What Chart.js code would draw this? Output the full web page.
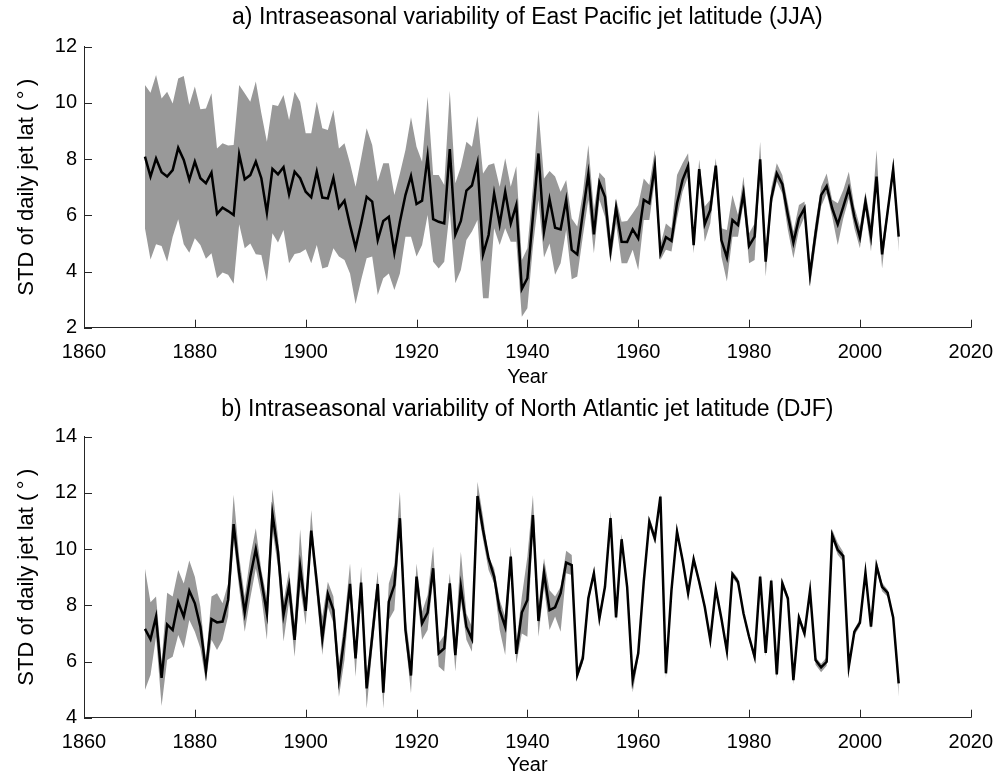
<!DOCTYPE html>
<html>
<head>
<meta charset="utf-8">
<title>Intraseasonal variability of jet latitude</title>
<script src="https://cdn.jsdelivr.net/npm/chart.js@4.4.1/dist/chart.umd.min.js"></script>
<style>
  body { margin: 0; background: #fff; }
  #wrap { position: relative; width: 1006px; height: 778px; }
  canvas { position: absolute; left: 0; }
</style>
</head>
<body>
<div id="wrap">
  <canvas id="chart-a" width="1006" height="390" style="top:0"></canvas>
  <canvas id="chart-b" width="1006" height="388" style="top:390px"></canvas>
</div>
<script>
// years 1871..2007, one value per year
const firstYear = 1871;
const years = Array.from({ length: 137 }, (_, i) => firstYear + i);

const xTicks = [1860, 1880, 1900, 1920, 1940, 1960, 1980, 2000, 2020];
const pacificYTicks = [2, 4, 6, 8, 10, 12];
const atlanticYTicks = [4, 6, 8, 10, 12, 14];

// a) East Pacific (JJA)
const pacificLine = [
  8.09, 7.38, 8.02, 7.53, 7.38, 7.61, 8.40, 7.97, 7.26, 7.91,
  7.32, 7.14, 7.52, 6.05, 6.27, 6.15, 6.01, 8.17, 7.28, 7.43,
  7.91, 7.32, 6.09, 7.65, 7.46, 7.71, 6.75, 7.55, 7.32, 6.84,
  6.64, 7.55, 6.63, 6.60, 7.33, 6.27, 6.52, 5.65, 4.85, 5.71,
  6.66, 6.49, 5.12, 5.80, 5.95, 4.67, 5.77, 6.72, 7.40, 6.40,
  6.52, 8.09, 5.86, 5.77, 5.71, 8.36, 5.32, 5.80, 6.88, 7.06,
  7.87, 4.61, 5.30, 6.78, 5.68, 6.84, 5.71, 6.37, 3.38, 3.76,
  5.95, 8.20, 5.42, 6.57, 5.56, 5.50, 6.55, 4.77, 4.61, 6.07,
  7.47, 5.32, 7.16, 6.66, 4.74, 6.27, 5.06, 5.05, 5.50, 5.18,
  6.55, 6.43, 7.75, 4.65, 5.22, 5.09, 6.43, 7.26, 7.75, 4.94,
  7.64, 5.68, 6.19, 7.77, 5.12, 4.50, 5.83, 5.65, 6.78, 4.91,
  5.24, 7.99, 4.35, 6.60, 7.49, 7.11, 6.01, 5.03, 5.89, 6.25,
  3.88, 5.36, 6.72, 7.04, 6.25, 5.68, 6.31, 6.96, 5.95, 5.22,
  6.49, 5.26, 7.38, 4.61, 6.13, 7.64, 5.24
];
const pacificUpper = [
  10.64, 10.36, 10.99, 10.16, 10.40, 9.98, 10.87, 10.96, 9.93, 10.58,
  9.77, 9.80, 10.34, 8.38, 8.56, 8.48, 8.50, 10.64, 10.34, 10.04,
  10.76, 9.63, 8.62, 9.93, 9.89, 10.28, 9.39, 10.40, 10.04, 8.92,
  8.92, 10.04, 9.10, 9.04, 9.75, 8.38, 8.56, 7.85, 7.02, 8.03,
  9.10, 8.50, 7.20, 7.85, 7.85, 6.72, 7.49, 8.32, 9.49, 8.44,
  7.91, 10.22, 7.43, 7.43, 7.08, 10.43, 7.14, 7.73, 8.62, 8.44,
  9.53, 7.49, 7.79, 7.85, 7.02, 8.03, 7.02, 7.75, 4.41, 4.83,
  7.02, 9.75, 7.31, 7.58, 7.38, 6.84, 7.26, 5.89, 5.60, 6.78,
  8.50, 6.19, 7.52, 7.31, 5.24, 6.60, 5.77, 5.80, 6.07, 6.37,
  7.31, 7.08, 8.32, 4.94, 5.71, 5.54, 7.43, 7.85, 8.21, 5.30,
  7.99, 6.31, 6.55, 8.03, 5.54, 5.48, 6.72, 6.01, 7.38, 5.36,
  5.71, 8.62, 4.77, 6.96, 7.85, 7.43, 6.43, 5.42, 6.37, 6.49,
  4.23, 5.77, 7.02, 7.49, 6.55, 6.43, 6.90, 7.55, 6.31, 5.60,
  6.84, 5.71, 8.32, 5.00, 6.31, 7.97, 5.48
];
const pacificLower = [
  5.54, 4.43, 4.97, 4.91, 4.35, 5.24, 5.86, 4.97, 4.67, 5.18,
  4.94, 4.45, 4.65, 3.76, 3.96, 3.88, 3.56, 5.68, 4.83, 5.00,
  4.61, 4.59, 3.64, 5.36, 5.03, 5.48, 4.29, 4.62, 4.67, 4.79,
  4.29, 4.94, 4.11, 4.17, 4.83, 4.53, 4.41, 3.93, 2.84, 3.70,
  4.47, 4.53, 3.16, 3.76, 3.93, 3.34, 3.93, 5.24, 5.24, 4.53,
  4.94, 6.01, 4.35, 4.11, 4.35, 6.19, 3.58, 4.05, 5.12, 5.42,
  5.83, 3.05, 3.05, 5.54, 4.94, 5.54, 5.06, 5.06, 2.39, 2.69,
  4.88, 6.55, 4.50, 5.00, 3.88, 4.29, 5.48, 3.72, 3.82, 5.24,
  6.55, 4.65, 6.55, 5.95, 4.29, 5.71, 4.29, 4.29, 4.77, 4.05,
  5.83, 5.83, 7.26, 4.41, 4.77, 4.71, 5.89, 6.84, 7.38, 4.65,
  7.26, 5.06, 5.71, 7.43, 4.53, 3.64, 5.24, 5.24, 6.43, 4.29,
  4.41, 7.61, 3.82, 6.31, 7.20, 6.78, 5.48, 4.47, 5.48, 5.95,
  3.46, 4.94, 6.31, 6.78, 5.95, 4.94, 5.89, 6.60, 5.54, 4.83,
  6.19, 4.71, 7.02, 4.11, 5.89, 7.49, 4.71
];

// b) North Atlantic (DJF)
const atlanticLine = [
  7.16, 6.79, 7.60, 5.42, 7.32, 7.12, 8.11, 7.60, 8.52, 8.07,
  7.24, 5.67, 7.51, 7.39, 7.42, 8.19, 10.89, 9.14, 7.74, 9.02,
  10.00, 8.90, 7.71, 11.25, 9.91, 7.66, 8.69, 6.77, 9.37, 7.80,
  10.66, 8.84, 6.82, 8.40, 7.83, 5.40, 6.90, 8.76, 6.11, 8.81,
  5.04, 6.88, 8.76, 4.89, 8.13, 8.72, 11.10, 7.12, 5.50, 9.02,
  7.36, 7.74, 9.32, 6.29, 6.47, 8.78, 6.23, 8.66, 7.24, 6.80,
  11.89, 10.68, 9.67, 9.02, 7.83, 7.24, 9.73, 6.27, 7.74, 8.19,
  11.21, 7.44, 9.16, 7.83, 7.93, 8.43, 9.52, 9.43, 5.52, 6.11,
  8.25, 9.14, 7.54, 8.66, 11.10, 7.57, 10.35, 8.66, 5.34, 6.29,
  8.84, 10.98, 10.38, 11.87, 5.58, 8.54, 10.62, 9.61, 8.43, 9.64,
  8.84, 7.95, 6.77, 8.58, 7.54, 6.37, 9.11, 8.84, 7.71, 6.88,
  6.17, 9.02, 6.31, 8.88, 5.54, 8.78, 8.25, 5.34, 7.56, 7.00,
  8.51, 6.05, 5.79, 5.99, 10.50, 9.97, 9.75, 5.82, 7.06, 7.38,
  9.16, 7.24, 9.40, 8.66, 8.45, 7.57, 5.22
];
const atlanticUpper = [
  9.31, 8.11, 8.31, 6.00, 8.45, 8.31, 9.26, 8.78, 9.59, 9.02,
  7.95, 6.05, 8.31, 8.43, 8.07, 8.78, 11.93, 9.73, 8.31, 9.73,
  10.74, 9.26, 8.25, 12.13, 10.44, 8.13, 9.26, 7.36, 10.71, 8.07,
  11.39, 8.90, 7.60, 8.84, 8.31, 5.93, 7.48, 9.49, 6.53, 9.37,
  5.46, 7.36, 9.20, 5.34, 8.78, 9.43, 12.04, 7.60, 6.05, 9.49,
  7.77, 8.37, 10.09, 6.65, 6.94, 9.14, 6.82, 9.91, 7.71, 7.24,
  12.40, 11.15, 9.73, 9.32, 8.19, 7.60, 10.09, 6.65, 8.31, 9.73,
  11.92, 7.95, 9.67, 8.54, 8.31, 8.66, 9.94, 9.79, 5.70, 6.30,
  8.40, 9.30, 7.70, 8.80, 11.35, 7.70, 10.55, 8.80, 5.45, 6.40,
  8.95, 11.15, 10.55, 11.98, 5.68, 8.65, 10.80, 9.75, 8.55, 9.75,
  8.95, 8.05, 6.87, 8.72, 7.64, 6.47, 9.21, 8.96, 7.81, 6.98,
  6.27, 9.15, 6.41, 9.00, 5.64, 8.95, 8.35, 5.44, 7.70, 7.10,
  8.68, 6.15, 5.92, 6.15, 10.70, 10.22, 9.90, 5.92, 7.16, 7.50,
  9.30, 7.34, 9.60, 8.80, 8.55, 7.67, 5.30
];
const atlanticLower = [
  4.99, 5.52, 6.88, 4.42, 6.05, 6.17, 6.94, 6.47, 7.48, 7.06,
  6.47, 5.28, 6.77, 6.41, 6.77, 7.60, 10.33, 8.60, 7.06, 8.25,
  9.31, 8.31, 6.77, 10.68, 9.37, 6.71, 8.13, 6.17, 8.66, 7.30,
  10.20, 8.31, 6.23, 7.95, 7.36, 4.75, 6.05, 8.42, 5.46, 8.42,
  4.33, 6.41, 8.31, 4.33, 7.48, 7.83, 10.68, 6.77, 4.87, 8.55,
  6.77, 7.12, 8.90, 5.82, 5.64, 8.31, 5.64, 8.19, 6.77, 6.35,
  11.51, 10.33, 9.26, 8.78, 7.12, 6.23, 9.32, 5.93, 7.00, 6.88,
  10.68, 6.88, 8.66, 7.12, 7.60, 7.06, 9.14, 9.08, 5.40, 5.95,
  8.10, 9.00, 7.40, 8.52, 10.95, 7.42, 10.20, 8.52, 4.90, 6.10,
  8.70, 10.82, 10.20, 11.72, 5.40, 8.40, 10.45, 9.45, 8.30, 9.50,
  8.70, 7.82, 6.62, 8.45, 7.40, 6.22, 8.98, 8.72, 7.58, 6.75,
  6.00, 8.88, 6.18, 8.75, 5.38, 8.62, 8.12, 5.18, 7.42, 6.85,
  8.38, 5.88, 5.62, 5.85, 10.35, 9.80, 9.55, 5.66, 6.93, 7.25,
  9.02, 7.10, 9.25, 8.50, 8.30, 7.42, 4.75
];

const axisColor = '#262626';
const bandColor = '#999999';
const fontFamily = '"Liberation Sans", Arial, Helvetica, sans-serif';

Chart.defaults.font.family = fontFamily;
Chart.defaults.color = '#000';

// MATLAB style ticks pointing into the plot
const inwardTicks = {
  id: 'inwardTicks',
  afterDraw(chart) {
    const { ctx, chartArea, scales } = chart;
    ctx.save();
    ctx.strokeStyle = axisColor;
    ctx.lineWidth = 1;
    ctx.beginPath();
    scales.x.ticks.forEach(t => {
      const px = Math.round(scales.x.getPixelForValue(t.value)) + 0.5;
      ctx.moveTo(px, chartArea.bottom);
      ctx.lineTo(px, chartArea.bottom - 8);
    });
    scales.y.ticks.forEach(t => {
      const py = Math.round(scales.y.getPixelForValue(t.value)) + 0.5;
      ctx.moveTo(chartArea.left, py);
      ctx.lineTo(chartArea.left + 8, py);
    });
    ctx.stroke();
    ctx.restore();
  }
};

// title centred over the plot area, not the whole canvas
const panelTitle = {
  id: 'panelTitle',
  afterDraw(chart, args, opts) {
    const { ctx, chartArea } = chart;
    ctx.save();
    ctx.font = '23px ' + fontFamily;
    ctx.fillStyle = '#000';
    ctx.textAlign = 'center';
    ctx.textBaseline = 'middle';
    ctx.fillText(opts.text, (chartArea.left + chartArea.right) / 2, opts.y);
    ctx.restore();
  }
};

function toPoints(values) {
  return values.map((v, i) => ({ x: years[i], y: v }));
}

function makeChart(id, titleText, titleY, line, upper, lower, yTicks) {
  const canvas = document.getElementById(id);
  const xHeight = canvas.height - 327.7;
  return new Chart(canvas, {
    type: 'line',
    data: {
      datasets: [
        { data: toPoints(line), borderColor: '#000', borderWidth: 2.5, pointRadius: 0, tension: 0, fill: false, order: 0 },
        { data: toPoints(upper), borderWidth: 0, pointRadius: 0, tension: 0, backgroundColor: bandColor, fill: '+1', order: 1 },
        { data: toPoints(lower), borderWidth: 0, pointRadius: 0, tension: 0, fill: false, order: 2 }
      ]
    },
    options: {
      responsive: false,
      animation: false,
      layout: { padding: { left: 0, right: 32, top: 46.7, bottom: 0 } },
      plugins: {
        legend: { display: false },
        tooltip: { enabled: false },
        title: { display: false },
        panelTitle: { text: titleText, y: titleY }
      },
      scales: {
        x: {
          type: 'linear',
          min: xTicks[0],
          max: xTicks[xTicks.length - 1],
          afterBuildTicks: s => { s.ticks = xTicks.map(v => ({ value: v })); },
          afterFit: s => { s.height = xHeight; },
          ticks: { font: { size: 20 }, padding: 13, maxRotation: 0, autoSkip: false, callback: v => String(v) },
          grid: { drawOnChartArea: false, drawTicks: false },
          border: { display: true, color: axisColor, width: 1 },
          title: { display: true, text: 'Year', font: { size: 20 }, padding: { top: 0, bottom: 1 } }
        },
        y: {
          min: yTicks[0],
          max: yTicks[yTicks.length - 1],
          afterBuildTicks: s => { s.ticks = yTicks.map(v => ({ value: v })); },
          afterFit: s => { s.width = 84; },
          ticks: { font: { size: 20 }, padding: 7 },
          grid: { drawOnChartArea: false, drawTicks: false },
          border: { display: true, color: axisColor, width: 1 },
          title: { display: true, text: 'STD of daily jet lat (\u2009°\u2009)', font: { size: 22 }, padding: { top: 14, bottom: 0 } }
        }
      }
    },
    plugins: [inwardTicks, panelTitle]
  });
}

makeChart('chart-a', 'a) Intraseasonal variability of East Pacific jet latitude (JJA)', 18,
  pacificLine, pacificUpper, pacificLower, pacificYTicks);
makeChart('chart-b', 'b) Intraseasonal variability of North Atlantic jet latitude (DJF)', 20,
  atlanticLine, atlanticUpper, atlanticLower, atlanticYTicks);
</script>
</body>
</html>
